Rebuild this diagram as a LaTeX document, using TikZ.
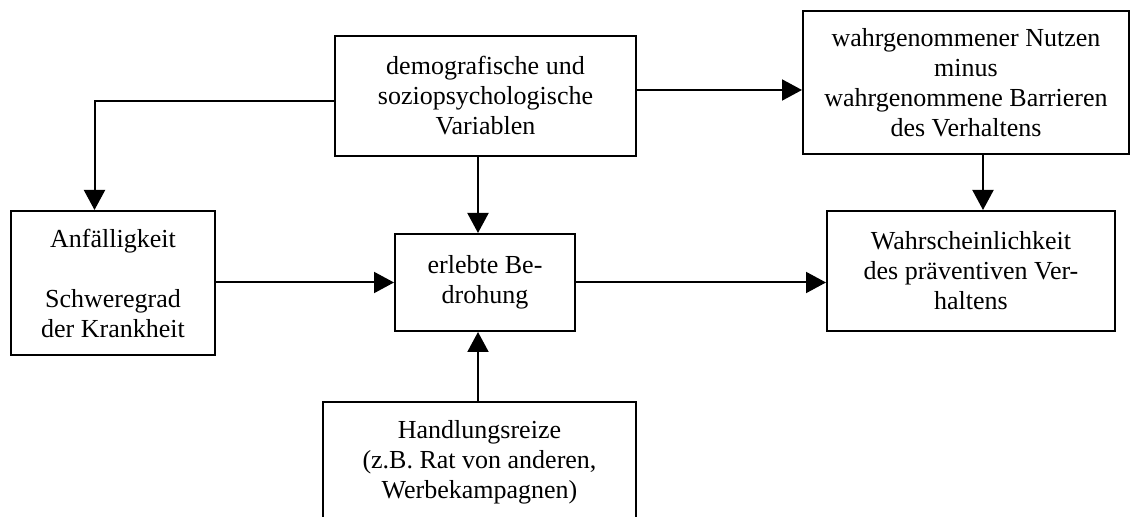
\documentclass[tikz,border=0pt]{standalone}
\usepackage{fontspec}
\setmainfont{Liberation Serif}
\usetikzlibrary{arrows.meta}
\begin{document}
\begin{tikzpicture}[x=0.5pt,y=-0.5pt,
  box/.style={draw, line width=1pt, inner sep=0pt, align=center,
    font=\fontsize{13pt}{15pt}\selectfont},
  arr/.style={line width=1pt, -{Triangle[length=10pt,width=10.5pt]}}]
  \useasboundingbox (0,0) rectangle (1132,517);
  \begin{scope}
    \clip (0,0) rectangle (1132,517);
    % boxes
    \node[box, minimum width=150.5pt, minimum height=60pt] (demo) at (485.5,96)
      {demografische und\\soziopsychologische\\Variablen};
    \node[box, minimum width=163pt, minimum height=71.5pt] (wahr) at (966,82.5)
      {wahrgenommener Nutzen\\minus\\wahrgenommene Barrieren\\des Verhaltens};
    \node[box, minimum width=102pt, minimum height=72pt] (anf) at (113,283)
      {Anfälligkeit\\[15pt]Schweregrad\\der Krankheit};
    \node[box, minimum width=90pt, minimum height=48.5pt] (erl) at (485,282.5)
      {erlebte Be-\\drohung};
    \node[box, minimum width=144pt, minimum height=60pt] (wsk) at (971,271)
      {Wahrscheinlichkeit\\des präventiven Ver-\\haltens};
    \node[box, minimum width=156.5pt, minimum height=60pt] (hand) at (479.5,462)
      {Handlungsreize\\(z.B. Rat von anderen,\\Werbekampagnen)};
    % helper coordinates for connector positions
    \coordinate (vmid) at (478,0);
    \coordinate (vright) at (983,0);
    \coordinate (htop) at (0,90);
    \coordinate (hleft) at (0,101);
    \coordinate (vleft) at (94.5,0);
    % connectors
    \draw[arr] (demo.west |- hleft) -| (anf.north -| vleft);
    \draw[arr] (demo.south -| vmid) -- (erl.north -| vmid);
    \draw[arr] (demo.east |- htop) -- (wahr.west |- htop);
    \draw[arr] (wahr.south -| vright) -- (wsk.north -| vright);
    \draw[arr] (anf.east |- erl.west) -- (erl.west);
    \draw[arr] (erl.east) -- (erl.east -| wsk.west);
    \draw[arr] (hand.north -| vmid) -- (erl.south -| vmid);
  \end{scope}
\end{tikzpicture}
\end{document}
